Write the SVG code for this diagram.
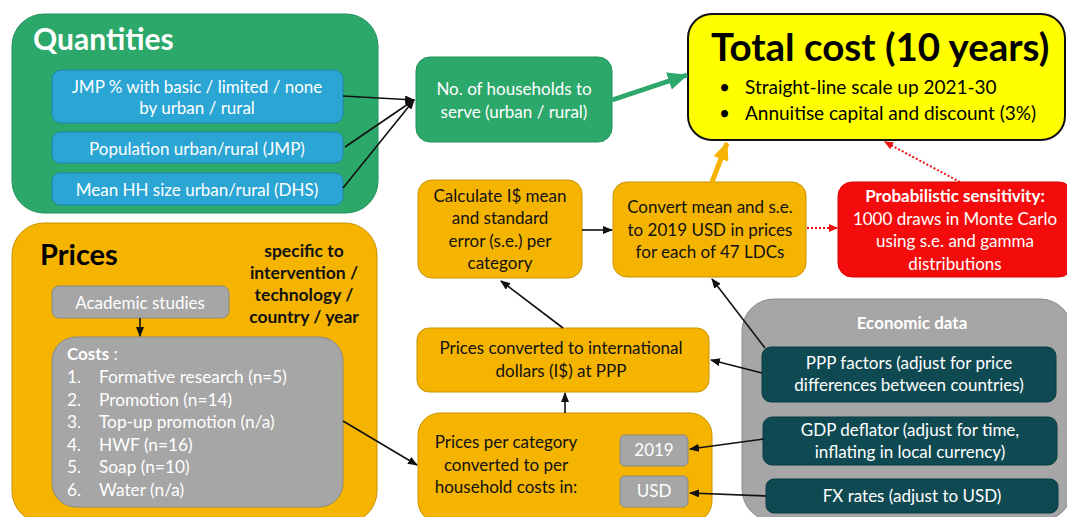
<svg xmlns="http://www.w3.org/2000/svg" width="1067" height="517" viewBox="0 0 1067 517">
<defs>
<style>
text{font-family:Lato,"Liberation Sans",sans-serif;}
.w{fill:#fff;font-size:17px;text-anchor:middle;}
.k{fill:#111;font-size:17px;text-anchor:middle;}
.b{font-weight:bold;}
.green{fill:#2DA86B;stroke:#23905a;stroke-width:1;}
.blue{fill:#2AA5D4;stroke:#1f84ad;stroke-width:1;}
.orange{fill:#F5B400;stroke:#C99200;stroke-width:1;}
.gray{fill:#A6A6A6;stroke:#8a8a8a;stroke-width:1;}
.teal{fill:#0F4A53;stroke:#0a3a41;stroke-width:1;}
.red{fill:#F40C0C;stroke:#d00;stroke-width:1;}
.c{stroke:#111;stroke-width:1.6;fill:none;marker-end:url(#ah);}
.d{stroke:#E11;stroke-width:2;stroke-dasharray:2,2;fill:none;marker-end:url(#rh);}
</style>
<marker id="ah" markerUnits="userSpaceOnUse" markerWidth="10" markerHeight="8" refX="9" refY="4" orient="auto"><path d="M0,0 L10,4 L0,8 z" fill="#111"/></marker>
<marker id="rh" markerUnits="userSpaceOnUse" markerWidth="9" markerHeight="8" refX="8" refY="4" orient="auto"><path d="M0,0 L9,4 L0,8 z" fill="#E11"/></marker>
<marker id="gh" markerUnits="userSpaceOnUse" markerWidth="20" markerHeight="18" refX="19" refY="9" orient="auto"><path d="M0,0 L20,9 L0,18 z" fill="#2DA86B"/></marker>
<marker id="oh" markerUnits="userSpaceOnUse" markerWidth="18" markerHeight="16" refX="17" refY="8" orient="auto"><path d="M0,0 L18,8 L0,16 z" fill="#F5B400"/></marker>
</defs>

<g id="quantities">
<rect class="green" x="12" y="14" width="366" height="199" rx="32"/>
<text x="33" y="50" class="b" style="fill:#fff;font-size:30px">Quantities</text>
</g>
<g id="jmp">
<rect class="blue" x="52" y="70" width="291" height="53" rx="9"/>
<text class="w" x="197" y="93">JMP % with basic / limited / none</text>
<text class="w" x="197" y="114">by urban / rural</text>
</g>
<g id="population">
<rect class="blue" x="52" y="132" width="291" height="31" rx="8"/>
<text class="w" x="197" y="155">Population urban/rural (JMP)</text>
</g>
<g id="hhsize">
<rect class="blue" x="52" y="173" width="291" height="32" rx="8"/>
<text class="w" x="197" y="196">Mean HH size urban/rural (DHS)</text>
</g>
<g id="households">
<rect class="green" x="416" y="57" width="196" height="85" rx="14"/>
<text class="w" x="514" y="95">No. of households to</text>
<text class="w" x="514" y="118">serve (urban / rural)</text>
</g>
<g id="totalcost">
<rect x="688" y="14" width="377" height="126" rx="24" fill="#FFFF00" stroke="#111" stroke-width="2"/>
<text x="711" y="61" class="b" style="fill:#000;font-size:38.5px">Total cost (10 years)</text>
<text x="719" y="94" style="fill:#000;font-size:19px">•</text>
<text x="745" y="94" style="fill:#000;font-size:19px">Straight-line scale up 2021-30</text>
<text x="719" y="120" style="fill:#000;font-size:19px">•</text>
<text x="745" y="120" style="fill:#000;font-size:19px">Annuitise capital and discount (3%)</text>
</g>

<g id="prices">
<rect class="orange" x="12" y="223" width="365" height="300" rx="32"/>
<text x="40" y="265" class="b" style="fill:#000;font-size:29px">Prices</text>
<text class="k b" x="304" y="257" style="font-size:17.5px">specific to</text>
<text class="k b" x="304" y="279" style="font-size:17.5px">intervention /</text>
<text class="k b" x="304" y="301" style="font-size:17.5px">technology /</text>
<text class="k b" x="304" y="323" style="font-size:17.5px">country / year</text>
</g>
<g id="academic">
<rect class="gray" x="52" y="286" width="177" height="32" rx="7"/>
<text class="w" x="140" y="309">Academic studies</text>
</g>
<g id="costs">
<rect class="gray" x="52" y="337" width="291" height="170" rx="24"/>
<text x="67" y="360" style="fill:#fff;font-size:17px"><tspan class="b">Costs</tspan> :</text>
<g style="fill:#fff;font-size:17.3px">
<text x="67" y="383">1.</text><text x="99" y="383">Formative research (n=5)</text>
<text x="67" y="405.5">2.</text><text x="99" y="405.5">Promotion (n=14)</text>
<text x="67" y="428">3.</text><text x="99" y="428">Top-up promotion (n/a)</text>
<text x="67" y="450.5">4.</text><text x="99" y="450.5">HWF (n=16)</text>
<text x="67" y="473">5.</text><text x="99" y="473">Soap (n=10)</text>
<text x="67" y="495.5">6.</text><text x="99" y="495.5">Water (n/a)</text>
</g>
</g>

<g id="calculate">
<rect class="orange" x="418" y="180" width="164" height="98" rx="14"/>
<text class="k" x="500" y="202">Calculate I$ mean</text>
<text class="k" x="500" y="224">and standard</text>
<text class="k" x="500" y="247">error (s.e.) per</text>
<text class="k" x="500" y="269">category</text>
</g>
<g id="convert">
<rect class="orange" x="613" y="182" width="193" height="95" rx="14"/>
<text class="k" x="710" y="213">Convert mean and s.e.</text>
<text class="k" x="710" y="236">to 2019 USD in prices</text>
<text class="k" x="710" y="258">for each of 47 LDCs</text>
</g>
<g id="probabilistic">
<rect class="red" x="838" y="182" width="235" height="95" rx="14"/>
<text class="w b" x="955" y="202">Probabilistic sensitivity:</text>
<text class="w" x="955" y="225">1000 draws in Monte Carlo</text>
<text class="w" x="955" y="247">using s.e. and gamma</text>
<text class="w" x="955" y="270">distributions</text>
</g>

<g id="pricesconverted">
<rect class="orange" x="417" y="328" width="292" height="64" rx="12"/>
<text class="k" x="561" y="354">Prices converted to international</text>
<text class="k" x="561" y="377">dollars (I$) at PPP</text>
</g>
<g id="percategory">
<rect class="orange" x="418" y="413" width="294" height="110" rx="22"/>
<text class="k" x="506" y="448">Prices per category</text>
<text class="k" x="506" y="471">converted to per</text>
<text class="k" x="506" y="493">household costs in:</text>
</g>
<g id="y2019">
<rect class="gray" x="620" y="435" width="68" height="31" rx="5"/>
<text class="w" x="654" y="456">2019</text>
</g>
<g id="usd">
<rect class="gray" x="620" y="476" width="68" height="31" rx="5"/>
<text class="w" x="654" y="497">USD</text>
</g>

<g id="economic">
<rect class="gray" x="742" y="299" width="330" height="222" rx="32"/>
<text class="w b" x="912" y="329" style="font-size:17px">Economic data</text>
</g>
<g id="ppp">
<rect class="teal" x="762" y="347" width="294" height="55" rx="9"/>
<text class="w" x="909" y="369">PPP factors (adjust for price</text>
<text class="w" x="909" y="391">differences between countries)</text>
</g>
<g id="gdp">
<rect class="teal" x="763" y="417" width="294" height="48" rx="9"/>
<text class="w" x="910" y="436">GDP deflator (adjust for time,</text>
<text class="w" x="910" y="458">inflating in local currency)</text>
</g>
<g id="fx">
<rect class="teal" x="766" y="479" width="292" height="34" rx="8"/>
<text class="w" x="912" y="502">FX rates (adjust to USD)</text>
</g>

<g id="connectors">
<line class="c" x1="343" y1="96" x2="414" y2="100"/>
<line class="c" x1="345" y1="147" x2="414" y2="100"/>
<line class="c" x1="343" y1="188" x2="414" y2="100"/>
<line x1="612" y1="100" x2="687" y2="75" stroke="#2DA86B" stroke-width="5" marker-end="url(#gh)"/>
<line x1="712" y1="182" x2="727" y2="143" stroke="#F5B400" stroke-width="5" marker-end="url(#oh)"/>
<line class="c" x1="582" y1="230" x2="612" y2="230"/>
<line class="d" x1="807" y1="228" x2="837" y2="228"/>
<line class="d" x1="960" y1="182" x2="885" y2="142"/>
<line class="c" x1="140" y1="318" x2="140" y2="336"/>
<line class="c" x1="343" y1="421" x2="417" y2="465"/>
<line class="c" x1="563" y1="328" x2="501" y2="281"/>
<line class="c" x1="765" y1="348" x2="712" y2="279"/>
<line class="c" x1="762" y1="373" x2="711" y2="360"/>
<line class="c" x1="565" y1="413" x2="565" y2="393"/>
<line class="c" x1="764" y1="439" x2="690" y2="449"/>
<line class="c" x1="766" y1="496" x2="690" y2="493"/>
</g>
</svg>
